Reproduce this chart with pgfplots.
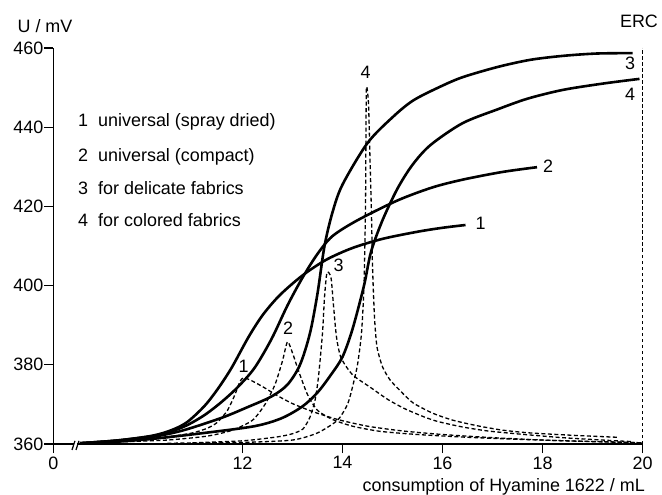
\documentclass[border=0pt]{standalone}
\usepackage{fontspec}
\setmainfont{Liberation Sans}
\usepackage{pgfplots}
\pgfplotsset{compat=1.18}

\tikzset{
  titr/.style={black, line width=2.6bp, smooth},
  deriv/.style={black, line width=1.3bp, dash pattern=on 4bp off 2.5bp, smooth, tension=0.4},
  lbl/.style={font=\fontsize{18}{21}\selectfont, inner sep=0pt},
}

\begin{document}
\begin{tikzpicture}
\begin{axis}[
    scale only axis,
    width=589bp, height=396bp,
    xmin=8.22, xmax=20, ymin=360, ymax=460,
    axis x line=bottom, axis y line=left,
    axis line style={-, line width=1.6bp},
    xtick={8.22,12,14,16,18,20},
    xticklabels={0,12,14,16,18,20},
    ytick={360,380,...,460},
    tick align=outside, major tick length=9bp,
    tick style={black, line width=1.2bp},
    /pgf/number format/assume math mode=true,
    tick label style={font=\fontsize{18}{21}\selectfont},
    yticklabel style={inner xsep=1bp},
    clip=false,
  ]
  % titration curves
  \addplot[titr] coordinates {(8.75,360.2) (9.5,360.9) (10.2,362.1) (10.6,363.6) (10.9,365.6) (11.24,369.6) (11.5,373.8) (11.78,379.2) (12.12,387) (12.4,392.5) (12.7,397) (13.0,400.5) (13.3,403.5) (13.7,406.7) (14.2,409.5) (14.8,411.8) (15.5,413.6) (16.0,414.6) (16.46,415.3)};
  \addplot[titr] coordinates {(8.75,360.2) (9.5,360.9) (10.2,362) (10.6,363.3) (10.9,364.8) (11.24,367.3) (11.58,370.6) (11.9,374.3) (12.24,379.2) (12.58,386.5) (12.9,395) (13.2,402) (13.5,408) (13.8,412.5) (14.3,416.5) (15.1,421.5) (15.8,424.8) (16.42,426.8) (17.2,428.7) (17.89,429.9)};
  \addplot[titr] coordinates {(8.75,360.2) (9.5,360.8) (10.2,361.8) (10.8,363.4) (11.58,366.6) (12.1,369.3) (12.58,372) (12.9,375) (13.15,380) (13.35,388) (13.5,398) (13.64,410) (13.8,418.5) (14.0,425.5) (14.5,436) (15.0,442.5) (15.42,446.8) (16.0,450.5) (16.42,452.7) (17.1,455.2) (17.75,457) (18.4,458) (19.08,458.6) (19.8,458.7)};
  \addplot[titr] coordinates {(8.75,360.1) (9.5,360.6) (10.2,361.3) (11.24,362.8) (12.24,364.5) (12.78,366.5) (13.2,369.5) (13.5,373) (13.77,377.5) (14.0,382) (14.2,389) (14.43,400) (14.57,408.5) (14.8,416.5) (15.1,424.5) (15.4,430.5) (15.76,435.5) (16.4,441) (17.1,444.5) (17.7,447.2) (18.4,449.4) (19.2,451) (19.94,452.2)};
  % first derivatives
  \addplot[deriv] coordinates {(9.0,360.4) (9.8,361.0) (10.5,361.8) (11.0,362.8) (11.3,364.0) (11.5,365.5) (11.7,368.5) (11.85,372.5) (11.95,375.8) (12.02,376.7) (12.15,376.2) (12.4,374.5) (12.7,372.2) (13.0,370.2) (13.4,368.2) (13.9,366.2) (14.5,364.5) (15.2,363.3) (16.0,362.4) (17.0,361.6) (18.0,361.0) (19.0,360.6) (20.0,360.3)};
  \addplot[deriv] coordinates {(9.5,360.5) (10.5,361.0) (11.3,362.0) (11.8,363.5) (12.2,366) (12.45,370) (12.65,375) (12.8,381) (12.9,385.8) (13.0,383) (13.12,378.5) (13.3,372.5) (13.5,368.5) (13.8,366.2) (14.2,364.5) (14.75,363.2) (15.5,362.4) (16.5,361.7) (17.5,361.2) (18.5,360.8) (19.5,360.5) (20.0,360.3)};
  \addplot[deriv] coordinates {(11.0,360.3) (12.0,360.8) (12.7,361.8) (13.0,362.6) (13.21,363.8) (13.35,366.8) (13.45,371) (13.52,377) (13.6,388) (13.64,397) (13.69,403.3) (13.77,402) (13.82,395) (13.88,387) (13.97,381.8) (14.2,377.5) (14.57,374.2) (14.9,371.3) (15.23,369) (15.6,367) (15.9,365.7) (16.4,364.3) (16.9,363.3) (17.55,362.5) (18.4,361.6) (19.2,361) (19.8,360.6)};
  \addplot[deriv] coordinates {(10.5,360.2) (12.0,360.4) (13.0,361) (13.5,362.8) (13.9,366) (14.1,370) (14.2,374.4) (14.3,380) (14.38,388) (14.43,400) (14.46,420) (14.47,440) (14.48,450.2) (14.52,446) (14.55,432) (14.58,418) (14.6,405) (14.64,392) (14.69,384.5) (14.8,379.5) (14.95,376.2) (15.15,373.5) (15.41,370.4) (15.8,367.8) (16.21,366) (16.7,364.6) (17.2,363.5) (17.75,362.8) (18.6,362.2) (19.5,361.7)};
  % equivalence (ERC)
  \addplot[black, line width=1.3bp, dash pattern=on 3.5bp off 2.5bp] coordinates {(20,360) (20,460)};

  % axis break
  \fill[white] (axis cs:8.64,359.0) rectangle (axis cs:8.7,361.0);
  \draw[line width=1.2bp] (axis cs:8.59,358.5) -- (axis cs:8.65,360.8);
  \draw[line width=1.2bp] (axis cs:8.67,358.5) -- (axis cs:8.73,360.8);

  % curve numbers
  \node[lbl] at (axis cs:12.02,379.6) {1};
  \node[lbl] at (axis cs:12.91,389.2) {2};
  \node[lbl] at (axis cs:13.92,405.2) {3};
  \node[lbl] at (axis cs:14.46,453.8) {4};
  \node[lbl] at (axis cs:16.76,415.7) {1};
  \node[lbl] at (axis cs:18.11,430.1) {2};
  \node[lbl] at (axis cs:19.75,456.1) {3};
  \node[lbl] at (axis cs:19.75,448.4) {4};

  % key
  \node[lbl, anchor=base west] at (rel axis cs:0.0416,0.8005) {1};
  \node[lbl, anchor=base west] at (rel axis cs:0.0756,0.8005) {universal (spray dried)};
  \node[lbl, anchor=base west] at (rel axis cs:0.0416,0.7146) {2};
  \node[lbl, anchor=base west] at (rel axis cs:0.0756,0.7146) {universal (compact)};
  \node[lbl, anchor=base west] at (rel axis cs:0.0416,0.6313) {3};
  \node[lbl, anchor=base west] at (rel axis cs:0.0756,0.6313) {for delicate fabrics};
  \node[lbl, anchor=base west] at (rel axis cs:0.0416,0.548) {4};
  \node[lbl, anchor=base west] at (rel axis cs:0.0756,0.548) {for colored fabrics};

  % axis titles
  \node[lbl] at (rel axis cs:-0.0144,1.0556) {U / mV};
  \node[lbl] at (rel axis cs:0.994,1.068) {ERC};
  \node[lbl, anchor=base east] at (rel axis cs:1.0042,-0.1187) {consumption of Hyamine 1622 / mL};

  \path (rel axis cs:-0.0908,-0.1263) rectangle (rel axis cs:1.0331,1.1212);
\end{axis}
\end{tikzpicture}
\end{document}
